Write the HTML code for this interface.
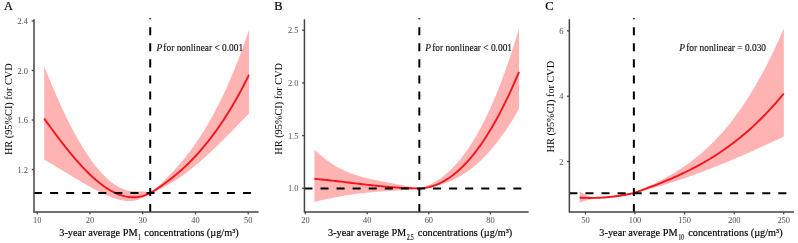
<!DOCTYPE html>
<html><head><meta charset="utf-8"><style>
html,body{margin:0;padding:0;background:#fff;}
svg{display:block;will-change:transform;transform:scale(1.0001);transform-origin:0 0;}
text{font-family:"Liberation Serif",serif;}
.tk{font-size:8.4px;fill:#4D4D4D;}
.ti{font-size:11.12px;fill:#000;stroke:#000;stroke-width:0.18px;}
.pt{font-size:10.15px;fill:#111;stroke:#111;stroke-width:0.15px;}
.yt{stroke:none;}
.lt{font-size:12.4px;fill:#000;stroke:#000;stroke-width:0.2px;}
</style></head><body>
<svg width="798" height="243" viewBox="0 0 798 243">
<rect width="798" height="243" fill="#fff"/>
<polygon points="44.20,66.20 46.00,70.73 47.79,75.19 49.59,79.58 51.39,83.91 53.18,88.17 54.98,92.36 56.78,96.48 58.57,100.52 60.37,104.50 62.17,108.39 63.96,112.22 65.76,115.97 67.56,119.64 69.35,123.23 71.15,126.74 72.95,130.17 74.74,133.52 76.54,136.78 78.34,139.97 80.13,143.06 81.93,146.07 83.73,149.00 85.52,151.83 87.32,154.57 89.12,157.23 90.91,159.79 92.71,162.26 94.51,164.63 96.30,166.91 98.10,169.10 99.89,171.18 101.69,173.17 103.49,175.06 105.28,176.85 107.08,178.54 108.88,180.12 110.67,181.61 112.47,182.99 114.27,184.27 116.06,185.44 117.86,186.51 119.66,187.47 121.45,188.33 123.25,189.07 125.05,189.71 126.84,190.24 128.64,190.65 130.44,190.96 132.23,191.16 134.03,191.28 135.83,191.35 137.62,191.38 139.42,191.42 141.22,191.49 143.01,191.60 144.81,191.79 146.61,192.09 148.40,192.52 150.20,193.10 151.87,191.66 153.55,190.21 155.22,188.74 156.90,187.24 158.57,185.72 160.25,184.18 161.92,182.62 163.60,181.02 165.27,179.40 166.95,177.75 168.62,176.07 170.29,174.35 171.97,172.60 173.64,170.82 175.32,169.00 176.99,167.14 178.67,165.24 180.34,163.29 182.02,161.31 183.69,159.28 185.37,157.21 187.04,155.08 188.72,152.91 190.39,150.69 192.06,148.42 193.74,146.09 195.41,143.71 197.09,141.27 198.76,138.78 200.44,136.23 202.11,133.61 203.79,130.93 205.46,128.20 207.14,125.39 208.81,122.52 210.48,119.58 212.16,116.57 213.83,113.49 215.51,110.34 217.18,107.12 218.86,103.82 220.53,100.44 222.21,96.99 223.88,93.45 225.56,89.84 227.23,86.14 228.91,82.36 230.58,78.49 232.25,74.54 233.93,70.50 235.60,66.36 237.28,62.14 238.95,57.82 240.63,53.41 242.30,48.91 243.98,44.30 245.65,39.60 247.33,34.80 249.00,29.90 249.00,113.39 247.33,115.14 245.65,116.88 243.98,118.63 242.30,120.37 240.63,122.11 238.95,123.84 237.28,125.57 235.60,127.29 233.93,129.01 232.25,130.73 230.58,132.43 228.91,134.13 227.23,135.82 225.56,137.50 223.88,139.17 222.21,140.83 220.53,142.48 218.86,144.12 217.18,145.74 215.51,147.36 213.83,148.95 212.16,150.54 210.48,152.11 208.81,153.66 207.14,155.20 205.46,156.72 203.79,158.22 202.11,159.71 200.44,161.17 198.76,162.62 197.09,164.05 195.41,165.45 193.74,166.84 192.06,168.20 190.39,169.54 188.72,170.85 187.04,172.14 185.37,173.41 183.69,174.65 182.02,175.86 180.34,177.05 178.67,178.21 176.99,179.34 175.32,180.45 173.64,181.52 171.97,182.57 170.29,183.58 168.62,184.56 166.95,185.51 165.27,186.43 163.60,187.31 161.92,188.16 160.25,188.98 158.57,189.76 156.90,190.50 155.22,191.21 153.55,191.88 151.87,192.51 150.20,193.10 148.40,194.48 146.61,195.71 144.81,196.79 143.01,197.74 141.22,198.56 139.42,199.25 137.62,199.82 135.83,200.27 134.03,200.61 132.23,200.84 130.44,200.97 128.64,201.00 126.84,200.94 125.05,200.78 123.25,200.55 121.45,200.23 119.66,199.84 117.86,199.38 116.06,198.85 114.27,198.26 112.47,197.62 110.67,196.93 108.88,196.19 107.08,195.40 105.28,194.59 103.49,193.74 101.69,192.86 99.89,191.96 98.10,191.04 96.30,190.11 94.51,189.16 92.71,188.19 90.91,187.21 89.12,186.22 87.32,185.21 85.52,184.20 83.73,183.17 81.93,182.13 80.13,181.08 78.34,180.03 76.54,178.96 74.74,177.90 72.95,176.82 71.15,175.74 69.35,174.66 67.56,173.57 65.76,172.49 63.96,171.40 62.17,170.31 60.37,169.22 58.57,168.14 56.78,167.05 54.98,165.97 53.18,164.90 51.39,163.82 49.59,162.76 47.79,161.70 46.00,160.65 44.20,159.61" fill="#FFB3B3"/>
<polyline points="44.20,118.60 46.00,121.09 47.79,123.58 49.59,126.05 51.39,128.50 53.18,130.94 54.98,133.36 56.78,135.76 58.57,138.14 60.37,140.50 62.17,142.83 63.96,145.14 65.76,147.41 67.56,149.66 69.35,151.88 71.15,154.06 72.95,156.21 74.74,158.33 76.54,160.40 78.34,162.44 80.13,164.43 81.93,166.39 83.73,168.30 85.52,170.16 87.32,171.98 89.12,173.74 90.91,175.46 92.71,177.12 94.51,178.73 96.30,180.29 98.10,181.79 99.89,183.23 101.69,184.60 103.49,185.92 105.28,187.17 107.08,188.36 108.88,189.48 110.67,190.54 112.47,191.52 114.27,192.43 116.06,193.27 117.86,194.03 119.66,194.72 121.45,195.32 123.25,195.85 125.05,196.30 126.84,196.66 128.64,196.94 130.44,197.14 132.23,197.24 134.03,197.26 135.83,197.18 137.62,197.01 139.42,196.75 141.22,196.39 143.01,195.93 144.81,195.38 146.61,194.72 148.40,193.96 150.20,193.10 151.87,192.07 153.55,191.01 155.22,189.94 156.90,188.85 158.57,187.73 160.25,186.59 161.92,185.43 163.60,184.25 165.27,183.04 166.95,181.80 168.62,180.54 170.29,179.25 171.97,177.94 173.64,176.59 175.32,175.22 176.99,173.82 178.67,172.38 180.34,170.92 182.02,169.42 183.69,167.89 185.37,166.33 187.04,164.73 188.72,163.10 190.39,161.43 192.06,159.73 193.74,157.99 195.41,156.21 197.09,154.39 198.76,152.53 200.44,150.63 202.11,148.70 203.79,146.72 205.46,144.69 207.14,142.63 208.81,140.52 210.48,138.36 212.16,136.16 213.83,133.92 215.51,131.63 217.18,129.29 218.86,126.90 220.53,124.46 222.21,121.97 223.88,119.43 225.56,116.85 227.23,114.20 228.91,111.51 230.58,108.76 232.25,105.96 233.93,103.11 235.60,100.19 237.28,97.22 238.95,94.20 240.63,91.11 242.30,87.97 243.98,84.77 245.65,81.51 247.33,78.18 249.00,74.80" fill="none" stroke="#F5141C" stroke-width="1.9" stroke-linejoin="round"/>
<line x1="34.0" y1="193.1" x2="258.6" y2="193.1" stroke="#000" stroke-width="2" stroke-dasharray="8.04 8.03"/>
<line x1="150.2" y1="212.0" x2="150.2" y2="18.2" stroke="#000" stroke-width="2" stroke-dasharray="8.04 8.03"/>
<path d="M34.0,19.3V212.0H258.6" fill="none" stroke="#444" stroke-width="1.5"/>
<line x1="37.2" y1="212.0" x2="37.2" y2="214.3" stroke="#444" stroke-width="1.3"/>
<text x="37.2" y="222.5" class="tk" text-anchor="middle">10</text>
<line x1="89.95" y1="212.0" x2="89.95" y2="214.3" stroke="#444" stroke-width="1.3"/>
<text x="89.95" y="222.5" class="tk" text-anchor="middle">20</text>
<line x1="142.7" y1="212.0" x2="142.7" y2="214.3" stroke="#444" stroke-width="1.3"/>
<text x="142.7" y="222.5" class="tk" text-anchor="middle">30</text>
<line x1="195.45" y1="212.0" x2="195.45" y2="214.3" stroke="#444" stroke-width="1.3"/>
<text x="195.45" y="222.5" class="tk" text-anchor="middle">40</text>
<line x1="248.2" y1="212.0" x2="248.2" y2="214.3" stroke="#444" stroke-width="1.3"/>
<text x="248.2" y="222.5" class="tk" text-anchor="middle">50</text>
<line x1="31.7" y1="169.5" x2="34.0" y2="169.5" stroke="#444" stroke-width="1.3"/>
<text x="28.0" y="172.5" class="tk" text-anchor="end">1.2</text>
<line x1="31.7" y1="120.0" x2="34.0" y2="120.0" stroke="#444" stroke-width="1.3"/>
<text x="28.0" y="123.0" class="tk" text-anchor="end">1.6</text>
<line x1="31.7" y1="70.5" x2="34.0" y2="70.5" stroke="#444" stroke-width="1.3"/>
<text x="28.0" y="73.5" class="tk" text-anchor="end">2.0</text>
<line x1="31.7" y1="21.0" x2="34.0" y2="21.0" stroke="#444" stroke-width="1.3"/>
<text x="28.0" y="24.0" class="tk" text-anchor="end">2.4</text>
<text x="4.0" y="10.4" class="lt">A</text>
<g transform="translate(156.39999999999998,50.5) scale(0.9259,1)"><text class="pt" text-anchor="start"><tspan font-style="italic">P</tspan><tspan dx="-1.2"> for nonlinear &lt; 0.001</tspan></text></g>
<g transform="translate(12.2,109.2) rotate(-90) scale(0.9259,1)"><text class="ti yt" text-anchor="middle">HR (95%CI) for CVD</text></g>
<g transform="translate(59.3,236.4) scale(0.9259,1)"><text class="ti" text-anchor="start">3-year average PM</text></g>
<text transform="translate(138.2,239.9) scale(0.66,1)" class="ti" style="font-size:8px">1</text>
<g transform="translate(238.7,236.4) scale(0.9259,1)"><text class="ti" text-anchor="end">concentrations (µg/m³)</text></g>
<polygon points="314.40,149.40 316.18,151.19 317.96,152.90 319.73,154.53 321.51,156.08 323.29,157.56 325.07,158.97 326.85,160.32 328.62,161.60 330.40,162.82 332.18,163.97 333.96,165.08 335.74,166.13 337.51,167.12 339.29,168.07 341.07,168.97 342.85,169.83 344.63,170.65 346.40,171.42 348.18,172.16 349.96,172.86 351.74,173.53 353.52,174.16 355.29,174.77 357.07,175.35 358.85,175.90 360.63,176.42 362.41,176.93 364.18,177.41 365.96,177.88 367.74,178.32 369.52,178.75 371.29,179.17 373.07,179.57 374.85,179.96 376.63,180.34 378.41,180.70 380.18,181.06 381.96,181.41 383.74,181.76 385.52,182.10 387.30,182.43 389.07,182.76 390.85,183.09 392.63,183.42 394.41,183.74 396.19,184.06 397.96,184.39 399.74,184.71 401.52,185.04 403.30,185.36 405.08,185.69 406.85,186.02 408.63,186.35 410.41,186.69 412.19,187.02 413.97,187.36 415.74,187.71 417.52,188.05 419.30,188.40 420.99,187.92 422.68,187.39 424.37,186.80 426.06,186.16 427.75,185.46 429.44,184.70 431.13,183.89 432.82,183.01 434.51,182.07 436.20,181.07 437.89,180.00 439.58,178.87 441.27,177.67 442.96,176.41 444.65,175.07 446.34,173.67 448.03,172.19 449.72,170.64 451.41,169.01 453.10,167.31 454.79,165.53 456.48,163.67 458.17,161.74 459.86,159.72 461.55,157.62 463.24,155.44 464.93,153.17 466.62,150.82 468.31,148.38 469.99,145.85 471.68,143.23 473.37,140.52 475.06,137.72 476.75,134.82 478.44,131.83 480.13,128.75 481.82,125.57 483.51,122.29 485.20,118.90 486.89,115.42 488.58,111.84 490.27,108.15 491.96,104.36 493.65,100.46 495.34,96.45 497.03,92.34 498.72,88.12 500.41,83.78 502.10,79.33 503.79,74.77 505.48,70.09 507.17,65.30 508.86,60.39 510.55,55.36 512.24,50.21 513.93,44.94 515.62,39.55 517.31,34.04 519.00,28.39 519.00,108.60 517.31,111.60 515.62,114.53 513.93,117.39 512.24,120.18 510.55,122.90 508.86,125.55 507.17,128.14 505.48,130.65 503.79,133.11 502.10,135.50 500.41,137.82 498.72,140.08 497.03,142.28 495.34,144.42 493.65,146.49 491.96,148.51 490.27,150.46 488.58,152.36 486.89,154.19 485.20,155.97 483.51,157.70 481.82,159.36 480.13,160.98 478.44,162.53 476.75,164.04 475.06,165.49 473.37,166.88 471.68,168.23 469.99,169.53 468.31,170.77 466.62,171.97 464.93,173.11 463.24,174.21 461.55,175.26 459.86,176.27 458.17,177.23 456.48,178.15 454.79,179.02 453.10,179.84 451.41,180.63 449.72,181.37 448.03,182.07 446.34,182.73 444.65,183.35 442.96,183.94 441.27,184.48 439.58,184.99 437.89,185.46 436.20,185.89 434.51,186.29 432.82,186.65 431.13,186.98 429.44,187.28 427.75,187.54 426.06,187.77 424.37,187.97 422.68,188.15 420.99,188.29 419.30,188.40 417.52,188.64 415.74,188.87 413.97,189.08 412.19,189.27 410.41,189.45 408.63,189.62 406.85,189.77 405.08,189.92 403.30,190.06 401.52,190.18 399.74,190.31 397.96,190.42 396.19,190.54 394.41,190.65 392.63,190.76 390.85,190.87 389.07,190.97 387.30,191.08 385.52,191.19 383.74,191.31 381.96,191.42 380.18,191.54 378.41,191.67 376.63,191.80 374.85,191.94 373.07,192.08 371.29,192.23 369.52,192.39 367.74,192.56 365.96,192.74 364.18,192.92 362.41,193.11 360.63,193.32 358.85,193.53 357.07,193.75 355.29,193.99 353.52,194.23 351.74,194.48 349.96,194.75 348.18,195.02 346.40,195.30 344.63,195.60 342.85,195.90 341.07,196.21 339.29,196.54 337.51,196.87 335.74,197.21 333.96,197.56 332.18,197.91 330.40,198.28 328.62,198.65 326.85,199.03 325.07,199.41 323.29,199.80 321.51,200.19 319.73,200.59 317.96,200.99 316.18,201.40 314.40,201.80" fill="#FFB3B3"/>
<polyline points="314.40,178.80 316.18,178.96 317.96,179.13 319.73,179.31 321.51,179.49 323.29,179.67 325.07,179.85 326.85,180.04 328.62,180.24 330.40,180.43 332.18,180.63 333.96,180.83 335.74,181.04 337.51,181.24 339.29,181.45 341.07,181.66 342.85,181.87 344.63,182.08 346.40,182.30 348.18,182.51 349.96,182.72 351.74,182.93 353.52,183.15 355.29,183.36 357.07,183.57 358.85,183.78 360.63,183.99 362.41,184.20 364.18,184.40 365.96,184.61 367.74,184.81 369.52,185.00 371.29,185.20 373.07,185.39 374.85,185.58 376.63,185.76 378.41,185.94 380.18,186.12 381.96,186.29 383.74,186.46 385.52,186.62 387.30,186.78 389.07,186.93 390.85,187.08 392.63,187.22 394.41,187.35 396.19,187.48 397.96,187.60 399.74,187.71 401.52,187.81 403.30,187.91 405.08,188.00 406.85,188.08 408.63,188.15 410.41,188.22 412.19,188.27 413.97,188.32 415.74,188.36 417.52,188.38 419.30,188.40 420.99,188.31 422.68,188.15 424.37,187.94 426.06,187.67 427.75,187.33 429.44,186.94 431.13,186.49 432.82,185.97 434.51,185.40 436.20,184.76 437.89,184.06 439.58,183.30 441.27,182.47 442.96,181.59 444.65,180.64 446.34,179.62 448.03,178.55 449.72,177.41 451.41,176.20 453.10,174.93 454.79,173.60 456.48,172.20 458.17,170.73 459.86,169.20 461.55,167.60 463.24,165.94 464.93,164.21 466.62,162.41 468.31,160.54 469.99,158.61 471.68,156.61 473.37,154.54 475.06,152.40 476.75,150.20 478.44,147.92 480.13,145.57 481.82,143.16 483.51,140.67 485.20,138.12 486.89,135.49 488.58,132.80 490.27,130.03 491.96,127.19 493.65,124.27 495.34,121.29 497.03,118.23 498.72,115.10 500.41,111.90 502.10,108.63 503.79,105.28 505.48,101.85 507.17,98.35 508.86,94.78 510.55,91.13 512.24,87.41 513.93,83.61 515.62,79.74 517.31,75.79 519.00,71.76" fill="none" stroke="#F5141C" stroke-width="1.9" stroke-linejoin="round"/>
<line x1="304.4" y1="188.5" x2="528.6" y2="188.5" stroke="#000" stroke-width="2" stroke-dasharray="8.04 8.03"/>
<line x1="419.3" y1="212.0" x2="419.3" y2="18.2" stroke="#000" stroke-width="2" stroke-dasharray="8.04 8.03"/>
<path d="M304.4,19.3V212.0H528.6" fill="none" stroke="#444" stroke-width="1.5"/>
<line x1="305.4" y1="212.0" x2="305.4" y2="214.3" stroke="#444" stroke-width="1.3"/>
<text x="305.4" y="222.5" class="tk" text-anchor="middle">20</text>
<line x1="367.2" y1="212.0" x2="367.2" y2="214.3" stroke="#444" stroke-width="1.3"/>
<text x="367.2" y="222.5" class="tk" text-anchor="middle">40</text>
<line x1="428.8" y1="212.0" x2="428.8" y2="214.3" stroke="#444" stroke-width="1.3"/>
<text x="428.8" y="222.5" class="tk" text-anchor="middle">60</text>
<line x1="490.4" y1="212.0" x2="490.4" y2="214.3" stroke="#444" stroke-width="1.3"/>
<text x="490.4" y="222.5" class="tk" text-anchor="middle">80</text>
<line x1="302.09999999999997" y1="188.3" x2="304.4" y2="188.3" stroke="#444" stroke-width="1.3"/>
<text x="298.4" y="191.3" class="tk" text-anchor="end">1.0</text>
<line x1="302.09999999999997" y1="135.6" x2="304.4" y2="135.6" stroke="#444" stroke-width="1.3"/>
<text x="298.4" y="138.6" class="tk" text-anchor="end">1.5</text>
<line x1="302.09999999999997" y1="82.9" x2="304.4" y2="82.9" stroke="#444" stroke-width="1.3"/>
<text x="298.4" y="85.9" class="tk" text-anchor="end">2.0</text>
<line x1="302.09999999999997" y1="30.2" x2="304.4" y2="30.2" stroke="#444" stroke-width="1.3"/>
<text x="298.4" y="33.2" class="tk" text-anchor="end">2.5</text>
<text x="274.2" y="10.4" class="lt">B</text>
<g transform="translate(425.2,50.5) scale(0.9259,1)"><text class="pt" text-anchor="start"><tspan font-style="italic">P</tspan><tspan dx="-1.2"> for nonlinear &lt; 0.001</tspan></text></g>
<g transform="translate(282.1,108.8) rotate(-90) scale(0.9259,1)"><text class="ti yt" text-anchor="middle">HR (95%CI) for CVD</text></g>
<g transform="translate(328.0,236.4) scale(0.9259,1)"><text class="ti" text-anchor="start">3-year average PM</text></g>
<text transform="translate(407.0,239.9) scale(0.66,1)" class="ti" style="font-size:8px">2.5</text>
<g transform="translate(512.2,236.4) scale(0.9259,1)"><text class="ti" text-anchor="end">concentrations (µg/m³)</text></g>
<polygon points="579.60,191.30 580.52,191.95 581.44,192.55 582.36,193.11 583.27,193.63 584.19,194.10 585.11,194.54 586.03,194.95 586.95,195.31 587.87,195.64 588.79,195.94 589.71,196.20 590.62,196.43 591.54,196.63 592.46,196.80 593.38,196.94 594.30,197.05 595.22,197.14 596.14,197.21 597.05,197.25 597.97,197.26 598.89,197.26 599.81,197.24 600.73,197.20 601.65,197.13 602.57,197.06 603.48,196.97 604.40,196.86 605.32,196.74 606.24,196.61 607.16,196.47 608.08,196.32 609.00,196.16 609.92,195.99 610.83,195.82 611.75,195.64 612.67,195.46 613.59,195.27 614.51,195.09 615.43,194.90 616.35,194.72 617.26,194.54 618.18,194.36 619.10,194.19 620.02,194.02 620.94,193.86 621.86,193.70 622.78,193.56 623.69,193.43 624.61,193.31 625.53,193.20 626.45,193.11 627.37,193.03 628.29,192.96 629.21,192.92 630.13,192.89 631.04,192.89 631.96,192.90 632.88,192.94 633.80,193.00 636.34,191.88 638.88,190.75 641.42,189.60 643.96,188.45 646.50,187.28 649.04,186.09 651.58,184.88 654.13,183.65 656.67,182.39 659.21,181.10 661.75,179.78 664.29,178.42 666.83,177.03 669.37,175.60 671.91,174.13 674.45,172.61 676.99,171.05 679.53,169.43 682.07,167.77 684.61,166.05 687.15,164.27 689.69,162.43 692.24,160.53 694.78,158.56 697.32,156.53 699.86,154.42 702.40,152.25 704.94,149.99 707.48,147.66 710.02,145.25 712.56,142.75 715.10,140.17 717.64,137.49 720.18,134.73 722.72,131.87 725.26,128.92 727.81,125.86 730.35,122.71 732.89,119.45 735.43,116.08 737.97,112.61 740.51,109.02 743.05,105.31 745.59,101.49 748.13,97.55 750.67,93.49 753.21,89.30 755.75,84.98 758.29,80.53 760.83,75.95 763.37,71.23 765.92,66.38 768.46,61.38 771.00,56.24 773.54,50.96 776.08,45.52 778.62,39.94 781.16,34.20 783.70,28.30 783.70,136.50 781.16,137.71 778.62,138.92 776.08,140.12 773.54,141.31 771.00,142.50 768.46,143.68 765.92,144.86 763.37,146.02 760.83,147.19 758.29,148.34 755.75,149.49 753.21,150.63 750.67,151.77 748.13,152.90 745.59,154.01 743.05,155.13 740.51,156.23 737.97,157.33 735.43,158.41 732.89,159.49 730.35,160.56 727.81,161.62 725.26,162.67 722.72,163.72 720.18,164.75 717.64,165.77 715.10,166.79 712.56,167.79 710.02,168.78 707.48,169.77 704.94,170.74 702.40,171.70 699.86,172.65 697.32,173.59 694.78,174.52 692.24,175.44 689.69,176.35 687.15,177.24 684.61,178.12 682.07,178.99 679.53,179.85 676.99,180.70 674.45,181.53 671.91,182.35 669.37,183.16 666.83,183.95 664.29,184.73 661.75,185.50 659.21,186.25 656.67,186.99 654.13,187.72 651.58,188.43 649.04,189.13 646.50,189.81 643.96,190.48 641.42,191.13 638.88,191.77 636.34,192.39 633.80,193.00 632.88,193.30 631.96,193.58 631.04,193.85 630.13,194.10 629.21,194.34 628.29,194.56 627.37,194.77 626.45,194.97 625.53,195.15 624.61,195.33 623.69,195.49 622.78,195.64 621.86,195.78 620.94,195.91 620.02,196.04 619.10,196.16 618.18,196.27 617.26,196.37 616.35,196.47 615.43,196.56 614.51,196.65 613.59,196.73 612.67,196.81 611.75,196.89 610.83,196.96 609.92,197.04 609.00,197.11 608.08,197.18 607.16,197.25 606.24,197.33 605.32,197.40 604.40,197.48 603.48,197.56 602.57,197.64 601.65,197.73 600.73,197.83 599.81,197.92 598.89,198.03 597.97,198.14 597.05,198.26 596.14,198.38 595.22,198.52 594.30,198.66 593.38,198.81 592.46,198.98 591.54,199.15 590.62,199.34 589.71,199.53 588.79,199.74 587.87,199.97 586.95,200.21 586.03,200.46 585.11,200.73 584.19,201.01 583.27,201.32 582.36,201.63 581.44,201.97 580.52,202.33 579.60,202.70" fill="#FFB3B3"/>
<polyline points="579.60,197.70 580.52,197.74 581.44,197.77 582.36,197.80 583.27,197.82 584.19,197.85 585.11,197.87 586.03,197.88 586.95,197.89 587.87,197.90 588.79,197.91 589.71,197.91 590.62,197.91 591.54,197.90 592.46,197.89 593.38,197.88 594.30,197.86 595.22,197.84 596.14,197.81 597.05,197.78 597.97,197.75 598.89,197.71 599.81,197.67 600.73,197.63 601.65,197.58 602.57,197.53 603.48,197.47 604.40,197.41 605.32,197.34 606.24,197.27 607.16,197.20 608.08,197.12 609.00,197.04 609.92,196.95 610.83,196.86 611.75,196.76 612.67,196.66 613.59,196.55 614.51,196.44 615.43,196.33 616.35,196.21 617.26,196.09 618.18,195.96 619.10,195.82 620.02,195.68 620.94,195.54 621.86,195.39 622.78,195.24 623.69,195.08 624.61,194.92 625.53,194.75 626.45,194.58 627.37,194.40 628.29,194.21 629.21,194.02 630.13,193.83 631.04,193.63 631.96,193.43 632.88,193.22 633.80,193.00 636.34,192.09 638.88,191.18 641.42,190.25 643.96,189.32 646.50,188.39 649.04,187.44 651.58,186.48 654.13,185.50 656.67,184.52 659.21,183.52 661.75,182.50 664.29,181.47 666.83,180.42 669.37,179.35 671.91,178.26 674.45,177.15 676.99,176.02 679.53,174.86 682.07,173.68 684.61,172.47 687.15,171.24 689.69,169.98 692.24,168.69 694.78,167.37 697.32,166.02 699.86,164.63 702.40,163.21 704.94,161.76 707.48,160.27 710.02,158.75 712.56,157.19 715.10,155.58 717.64,153.94 720.18,152.26 722.72,150.53 725.26,148.76 727.81,146.95 730.35,145.09 732.89,143.18 735.43,141.23 737.97,139.22 740.51,137.17 743.05,135.06 745.59,132.90 748.13,130.69 750.67,128.43 753.21,126.10 755.75,123.73 758.29,121.29 760.83,118.79 763.37,116.24 765.92,113.62 768.46,110.94 771.00,108.19 773.54,105.38 776.08,102.51 778.62,99.57 781.16,96.56 783.70,93.48" fill="none" stroke="#F5141C" stroke-width="1.9" stroke-linejoin="round"/>
<line x1="569.3" y1="193.3" x2="793.9" y2="193.3" stroke="#000" stroke-width="2" stroke-dasharray="8.04 8.03"/>
<line x1="633.8" y1="212.0" x2="633.8" y2="18.2" stroke="#000" stroke-width="2" stroke-dasharray="8.04 8.03"/>
<path d="M569.3,19.3V212.0H793.9" fill="none" stroke="#444" stroke-width="1.5"/>
<line x1="585.4" y1="212.0" x2="585.4" y2="214.3" stroke="#444" stroke-width="1.3"/>
<text x="585.4" y="222.5" class="tk" text-anchor="middle">50</text>
<line x1="634.95" y1="212.0" x2="634.95" y2="214.3" stroke="#444" stroke-width="1.3"/>
<text x="634.95" y="222.5" class="tk" text-anchor="middle">100</text>
<line x1="684.5" y1="212.0" x2="684.5" y2="214.3" stroke="#444" stroke-width="1.3"/>
<text x="684.5" y="222.5" class="tk" text-anchor="middle">150</text>
<line x1="734.2" y1="212.0" x2="734.2" y2="214.3" stroke="#444" stroke-width="1.3"/>
<text x="734.2" y="222.5" class="tk" text-anchor="middle">200</text>
<line x1="783.6" y1="212.0" x2="783.6" y2="214.3" stroke="#444" stroke-width="1.3"/>
<text x="783.6" y="222.5" class="tk" text-anchor="middle">250</text>
<line x1="567.0" y1="161.5" x2="569.3" y2="161.5" stroke="#444" stroke-width="1.3"/>
<text x="563.3" y="164.5" class="tk" text-anchor="end">2</text>
<line x1="567.0" y1="96.2" x2="569.3" y2="96.2" stroke="#444" stroke-width="1.3"/>
<text x="563.3" y="99.2" class="tk" text-anchor="end">4</text>
<line x1="567.0" y1="30.9" x2="569.3" y2="30.9" stroke="#444" stroke-width="1.3"/>
<text x="563.3" y="33.9" class="tk" text-anchor="end">6</text>
<text x="545.3" y="10.4" class="lt">C</text>
<g transform="translate(679.2,50.5) scale(0.9259,1)"><text class="pt" text-anchor="start"><tspan font-style="italic">P</tspan><tspan dx="-1.2"> for nonlinear = 0.030</tspan></text></g>
<g transform="translate(554.4,106.6) rotate(-90) scale(0.9259,1)"><text class="ti yt" text-anchor="middle">HR (95%CI) for CVD</text></g>
<g transform="translate(599.3,236.4) scale(0.9259,1)"><text class="ti" text-anchor="start">3-year average PM</text></g>
<text transform="translate(678.5,239.9) scale(0.66,1)" class="ti" style="font-size:8px">10</text>
<g transform="translate(782.5,236.4) scale(0.9259,1)"><text class="ti" text-anchor="end">concentrations (µg/m³)</text></g>
</svg></body></html>
